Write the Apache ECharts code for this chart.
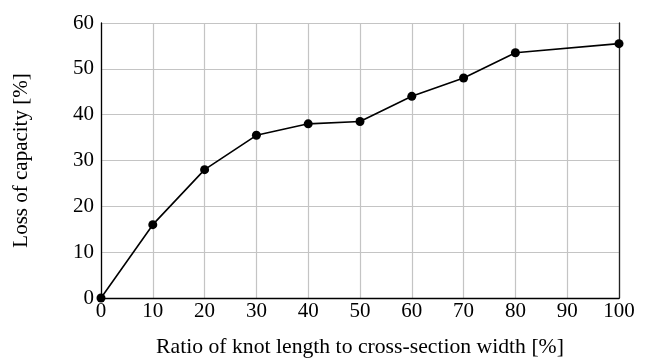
<!DOCTYPE html>
<html>
<head>
<meta charset="utf-8">
<script src="https://cdn.jsdelivr.net/npm/echarts@6/dist/echarts.min.js"></script>
<style>
  html, body { margin: 0; padding: 0; background: #fff; }
  #chart { width: 648px; height: 358px; }
</style>
</head>
<body>
<div id="chart"></div>
<script>
// knot ratio vs loss of capacity
const ratio = [0, 10, 20, 30, 40, 50, 60, 70, 80, 100]
const loss = [0, 16, 28, 35.5, 38, 38.5, 44, 48, 53.5, 55.5]
const xTitle = 'Ratio of knot length to cross-section width [%]'
const yTitle = 'Loss of capacity [%]'

const font = '"Liberation Serif", "DejaVu Serif", serif'
const gridColor = '#c4c4c4'
const fs = 21

const chart = echarts.init(document.getElementById('chart'))
const option = {
  animation: false,
  grid: { left: 101, right: 29, top: 23, bottom: 60, outerBoundsMode: 'none' },
  xAxis: {
    type: 'value',
    min: 0,
    max: 100,
    interval: 10,
    name: xTitle,
    nameLocation: 'middle',
    nameGap: 38,
    nameTextStyle: { fontFamily: font, fontSize: 21.7, color: '#000' },
    axisLine: { lineStyle: { color: '#000', width: 1.3 } },
    axisTick: { show: false },
    axisLabel: { fontFamily: font, fontSize: fs, color: '#000', margin: 3 },
    splitLine: { lineStyle: { color: gridColor, width: 1.2 } }
  },
  yAxis: [
    {
      type: 'value',
      min: 0,
      max: 60,
      interval: 10,
      name: yTitle,
      nameLocation: 'middle',
      nameGap: 69,
      nameTextStyle: { fontFamily: font, fontSize: fs, color: '#000' },
      axisLine: { show: true, lineStyle: { color: '#000', width: 1.3 } },
      axisTick: { show: false },
      axisLabel: { fontFamily: font, fontSize: fs, color: '#000', margin: 7 },
      splitLine: { lineStyle: { color: gridColor, width: 1.2 } }
    },
    {
      type: 'value',
      position: 'right',
      min: 0,
      max: 60,
      interval: 10,
      axisLine: { show: true, lineStyle: { color: '#222', width: 1.3 } },
      axisTick: { show: false },
      axisLabel: { show: false },
      splitLine: { show: false }
    }
  ],
  series: [
    {
      type: 'line',
      data: ratio.map((r, i) => [r, loss[i]]),
      symbol: 'circle',
      symbolSize: 9,
      itemStyle: { color: '#000' },
      lineStyle: { color: '#000', width: 1.6 },
      z: 5
    }
  ]
}
chart.setOption(option)
</script>
</body>
</html>
